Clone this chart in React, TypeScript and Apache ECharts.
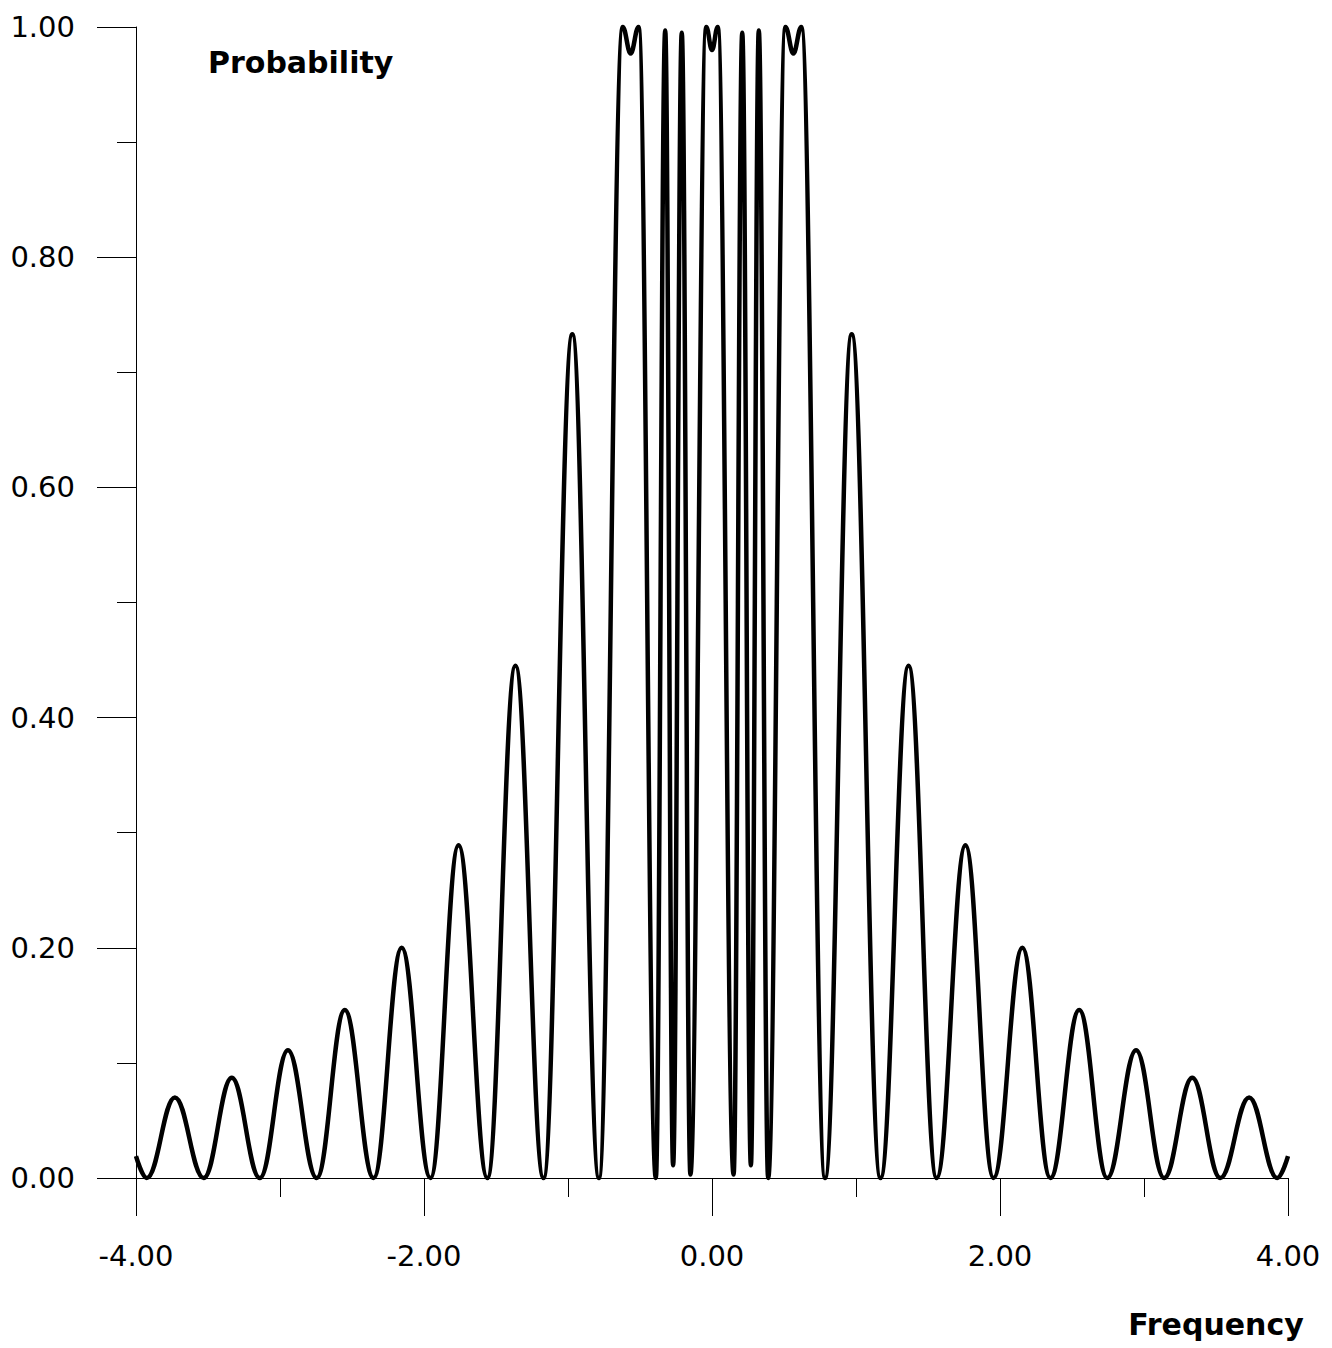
import React, { useEffect, useRef } from "react";
import * as echarts from "echarts";

// Frequency positions of the curve's extrema (peaks, dips, zeros)
const frequency = [
  -4.0, -3.925, -3.73, -3.53, -3.335, -3.14, -2.945, -2.745, -2.55, -2.35,
  -2.155, -1.955, -1.76, -1.56, -1.365, -1.17, -0.97, -0.785, -0.62, -0.565,
  -0.51, -0.39, -0.325, -0.27, -0.21, -0.15, -0.04, 0.0, 0.04, 0.15,
  0.21, 0.27, 0.325, 0.39, 0.51, 0.565, 0.62, 0.785, 0.97, 1.17,
  1.365, 1.56, 1.76, 1.955, 2.155, 2.35, 2.55, 2.745, 2.945, 3.14,
  3.335, 3.53, 3.73, 3.925, 4.0,
];

// Probability at those positions
const probability = [
  0.019, 0.0, 0.07, 0.0, 0.087, 0.0, 0.111, 0.0, 0.146, 0.0,
  0.2, 0.0, 0.289, 0.0, 0.445, 0.0, 0.733, 0.0, 1.0, 0.977,
  1.0, 0.0, 0.997, 0.011, 0.995, 0.003, 1.0, 0.98, 1.0, 0.003,
  0.995, 0.011, 0.997, 0.0, 1.0, 0.977, 1.0, 0.0, 0.733, 0.0,
  0.445, 0.0, 0.289, 0.0, 0.2, 0.0, 0.146, 0.0, 0.111, 0.0,
  0.087, 0.0, 0.07, 0.0, 0.019,
];

const xTitle = "Frequency";
const yTitle = "Probability";

export default function App() {
  const ref = useRef<HTMLDivElement>(null);

  useEffect(() => {
    if (!ref.current) return;
    const chart = echarts.init(ref.current, undefined, { renderer: "svg" });
    const data = frequency.map((f, i) => [f, probability[i]]);
    const tickFont = {
      fontFamily: "DejaVu Sans",
      fontSize: 29,
      color: "#000",
    };
    chart.setOption({
      animation: false,
      backgroundColor: "#fff",
      grid: {
        left: 136,
        right: 44,
        top: 27,
        bottom: 170,
        containLabel: false,
        outerBoundsMode: "none",
      },
      xAxis: {
        type: "value",
        min: -4,
        max: 4,
        interval: 2,
        name: xTitle,
        nameLocation: "end",
        nameGap: -72,
        nameTextStyle: {
          fontFamily: "DejaVu Sans",
          fontWeight: "bold",
          fontSize: 30,
          color: "#000",
          align: "center",
          verticalAlign: "top",
          padding: [131, 0, 0, 0],
        },
        axisLine: { show: true, onZero: false, lineStyle: { color: "#000", width: 1 } },
        axisTick: { show: true, length: 38, lineStyle: { color: "#000", width: 1 } },
        minorTick: { show: true, splitNumber: 2, length: 19, lineStyle: { color: "#000", width: 1 } },
        splitLine: { show: false },
        minorSplitLine: { show: false },
        axisLabel: {
          ...tickFont,
          margin: 63,
          formatter: (v: number) => v.toFixed(2),
        },
      },
      yAxis: {
        type: "value",
        min: 0,
        max: 1,
        interval: 0.2,
        name: yTitle,
        nameLocation: "end",
        nameGap: -35,
        nameTextStyle: {
          fontFamily: "DejaVu Sans",
          fontWeight: "bold",
          fontSize: 30,
          color: "#000",
          align: "left",
          verticalAlign: "middle",
          padding: [0, 0, 0, 72],
        },
        axisLine: { show: true, onZero: false, lineStyle: { color: "#000", width: 1 } },
        axisTick: { show: true, length: 39, lineStyle: { color: "#000", width: 1 } },
        minorTick: { show: true, splitNumber: 2, length: 19, lineStyle: { color: "#000", width: 1 } },
        splitLine: { show: false },
        minorSplitLine: { show: false },
        axisLabel: {
          ...tickFont,
          margin: 61,
          formatter: (v: number) => v.toFixed(2),
        },
      },
      series: [
        {
          type: "line",
          data,
          smooth: 0.4,
          smoothMonotone: "x",
          showSymbol: false,
          symbol: "none",
          clip: false,
          lineStyle: { color: "#000", width: 4.5 },
        },
      ],
    });
    return () => chart.dispose();
  }, []);

  return (
    <div
      ref={ref}
      style={{ position: "absolute", left: 0, top: 0, width: 1332, height: 1348 }}
    />
  );
}
